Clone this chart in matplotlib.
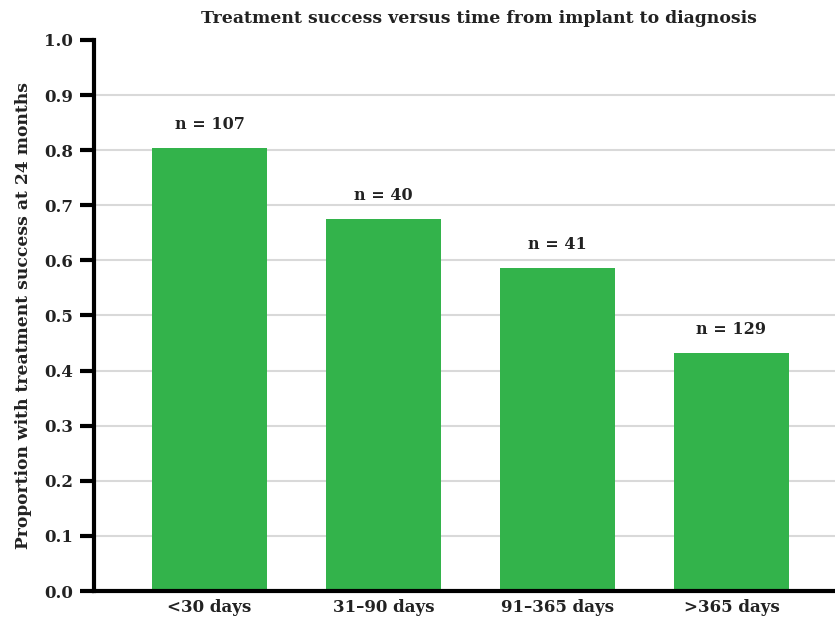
import matplotlib.pyplot as plt
import numpy as np

categories = ['<30 days', '31\u201390 days', '91\u2013365 days', '>365 days']
success = [0.804, 0.675, 0.586, 0.432]
n_labels = ['n = 107', 'n = 40', 'n = 41', 'n = 129']
yticks = [0.0, 0.1, 0.2, 0.3, 0.4, 0.5, 0.6, 0.7, 0.8, 0.9, 1.0]

plt.rcParams['font.family'] = ['DejaVu Serif']
plt.rcParams['font.weight'] = 'bold'

fig = plt.figure(figsize=(8.35, 6.21), dpi=100)
ax = fig.add_axes([0.1126, 0.0483, 0.8874, 0.8873])

x = np.arange(len(categories))
ax.bar(x, success, width=0.66, color='#33b34b', zorder=2)

for xi, v, lab in zip(x, success, n_labels):
    ax.text(xi, v + 0.028, lab, ha='center', va='bottom', fontsize=11.5, fontweight='bold', color='#222222')

ax.set_xlim(-0.664, 3.595)
ax.set_ylim(0, 1.0)
ax.set_yticks(yticks)
ax.set_yticklabels([f'{t:.1f}' for t in yticks], fontsize=12, fontweight='bold', color='#222222')
ax.set_xticks(x)
ax.set_xticklabels(categories, fontsize=12, fontweight='bold', color='#222222')
ax.tick_params(axis='y', length=10, width=3, pad=5)
ax.tick_params(axis='x', length=0, pad=6)

ax.grid(axis='y', color='#d9d9d9', linewidth=1.5, zorder=0)
ax.set_axisbelow(True)
ax.yaxis.get_gridlines()[-1].set_visible(False)
for s in ['top', 'right']:
    ax.spines[s].set_visible(False)
ax.spines['left'].set_linewidth(3)
ax.spines['bottom'].set_linewidth(3)

ax.set_ylabel('Proportion with treatment success at 24 months', fontsize=12.3, fontweight='bold', color='#222222', labelpad=9)
ax.set_title('Treatment success versus time from implant to diagnosis', fontsize=12.4, fontweight='bold', color='#222222', pad=12, x=0.52)

fig.savefig('out.png', dpi=100)
